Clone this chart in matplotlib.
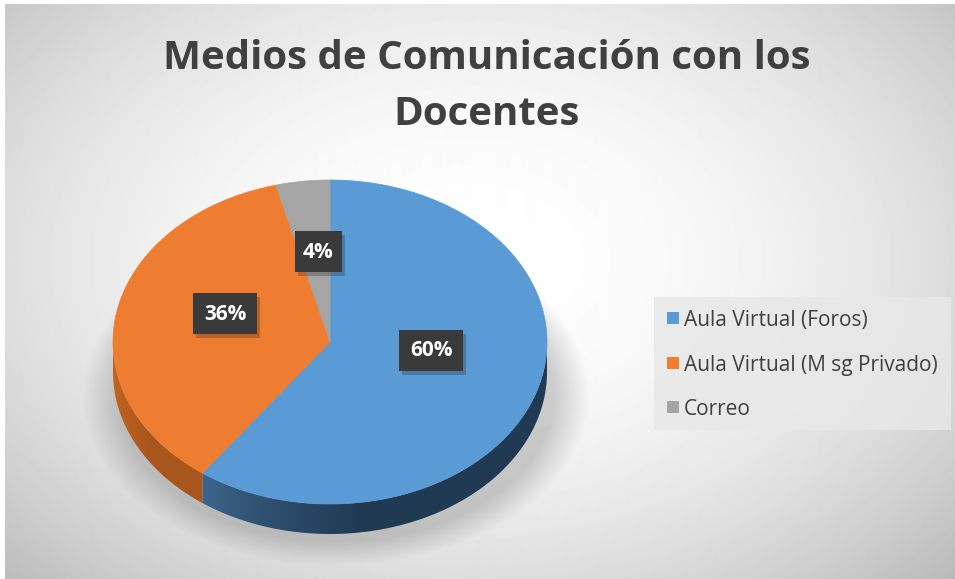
import numpy as np
import matplotlib
matplotlib.use("Agg")
import matplotlib.pyplot as plt
from matplotlib.patches import Polygon, Rectangle

# ---- data ----
categories = ["Aula Virtual (Foros)", "Aula Virtual (Msg Privado)", "Correo"]
legend_labels = ["Aula Virtual (Foros)", "Aula Virtual (M sg Privado)", "Correo"]
values = [60, 36, 4]
pct_labels = ["60%", "36%", "4%"]
title_lines = ["Medios de Comunicación con los", "Docentes"]

top_colors = ["#5b9bd5", "#ef7d31", "#a5a5a5"]
side_dark = ["#213a53", "#a9561c", "#6e6e6e"]
side_light = ["#3d668d", "#c0651f", "#8a8a8a"]

W, H = 955, 579
fig = plt.figure(figsize=(W / 100, H / 100), dpi=100, facecolor="white")
ax = fig.add_axes([0, 0, 1, 1])
ax.set_xlim(0, W)
ax.set_ylim(H, 0)
ax.axis("off")

# ---- background radial gradient ----
xx, yy = np.meshgrid(np.arange(5, W), np.arange(4, H))
d = np.sqrt(((xx - 470) / 620.0) ** 2 + ((yy - 260) / 420.0) ** 2)
bg = 1 - 0.23 * np.clip(d, 0, 1.2) ** 2
ax.imshow(bg, cmap="gray", vmin=0, vmax=1, extent=(5, W, H, 4),
          interpolation="bilinear", zorder=0, aspect="auto")

# ---- pie geometry ----
cx, cy, rx, ry, depth = 330, 342, 217, 162, 30

# soft shadow below pie
sx, sy = np.meshgrid(np.arange(60, 620), np.arange(250, 570))
sd = np.sqrt(((sx - 335) / 226.0) ** 2 + ((sy - 395) / 152.0) ** 2)
salpha = np.clip((1.12 - sd) / 0.16, 0, 1) * 0.28
shadow = np.zeros(sx.shape + (4,))
shadow[..., 0:3] = 0.35
shadow[..., 3] = salpha
ax.imshow(shadow, extent=(60, 620, 570, 250), interpolation="bilinear",
          zorder=1, aspect="auto")

fracs = np.array(values, dtype=float) / sum(values)
starts = 90 - 360 * np.concatenate([[0], np.cumsum(fracs)[:-1]])
ends = starts - 360 * fracs


def ell(theta_deg, dy=0.0):
    t = np.radians(theta_deg)
    return cx + rx * np.cos(t), cy - ry * np.sin(t) + dy


# side faces (visible for angles in [-180, 0])
for i in range(len(values)):
    a_hi, a_lo = starts[i], ends[i]
    lo, hi = max(a_lo, -180), min(a_hi, 0)
    if lo >= hi:
        continue
    th = np.linspace(hi, lo, 200)
    x1, y1 = ell(th)
    x2, y2 = ell(th[::-1], depth)
    poly = Polygon(np.column_stack([np.r_[x1, x2], np.r_[y1, y2]]),
                   closed=True, facecolor="none", edgecolor="none", zorder=2)
    ax.add_patch(poly)
    xmin, xmax = min(x1.min(), x2.min()), max(x1.max(), x2.max())
    ymin, ymax = min(y1.min(), y2.min()), max(y1.max(), y2.max())
    c1 = np.array(matplotlib.colors.to_rgb(side_light[i]))
    c2 = np.array(matplotlib.colors.to_rgb(side_dark[i]))
    g = np.linspace(0, 1, 256)
    g = np.clip(g * 2.2, 0, 1) ** 0.8
    grad = (c1[None, :] * (1 - g[:, None]) + c2[None, :] * g[:, None])[None, :, :]
    im = ax.imshow(grad, extent=(xmin, xmax, ymax, ymin), aspect="auto",
                   interpolation="bilinear", zorder=2)
    im.set_clip_path(poly)

# top wedges
for i in range(len(values)):
    th = np.linspace(starts[i], ends[i], 300)
    x, y = ell(th)
    pts = np.column_stack([np.r_[cx, x], np.r_[cy, y]])
    ax.add_patch(Polygon(pts, closed=True, facecolor=top_colors[i],
                         edgecolor=top_colors[i], linewidth=0.5, zorder=3))

# ---- data labels ----
label_pos = [(431, 350), (225, 313), (318, 251)]
label_w = [64, 64, 47]
label_h = 41
for (lx, ly), w, txt in zip(label_pos, label_w, pct_labels):
    ax.add_patch(Rectangle((lx - w / 2 + 3, ly - label_h / 2 + 4), w, label_h,
                           facecolor="black", alpha=0.22, edgecolor="none", zorder=4))
    ax.add_patch(Rectangle((lx - w / 2, ly - label_h / 2), w, label_h,
                           facecolor="#3a3a3a", edgecolor="none", zorder=5))
    ax.text(lx, ly + 1, txt, color="white", fontsize=15, fontweight="bold",
            family="Open Sans", ha="center", va="center", zorder=6)

# ---- title ----
ax.text(487, 69, title_lines[0], fontsize=29, fontweight="bold", family="Open Sans",
        color="#404040", ha="center", va="baseline", zorder=6)
ax.text(487, 125, title_lines[1], fontsize=29, fontweight="bold", family="Open Sans",
        color="#404040", ha="center", va="baseline", zorder=6)

# ---- legend (drawn as a box with square keys) ----
ax.add_patch(Rectangle((654, 297), 297, 133, facecolor="#e8e8e8",
                       edgecolor="none", alpha=0.85, zorder=6))
rows_y = [318, 363, 407]
for yrow, col, lab in zip(rows_y, top_colors, legend_labels):
    ax.add_patch(Rectangle((667, yrow - 6), 12, 12, facecolor=col,
                           edgecolor="none", zorder=7))
    ax.text(684, yrow, lab, fontsize=15, family="Open Sans", color="#404040",
            ha="left", va="center_baseline", zorder=7)

fig.savefig("out.png", dpi=100, facecolor="white")
